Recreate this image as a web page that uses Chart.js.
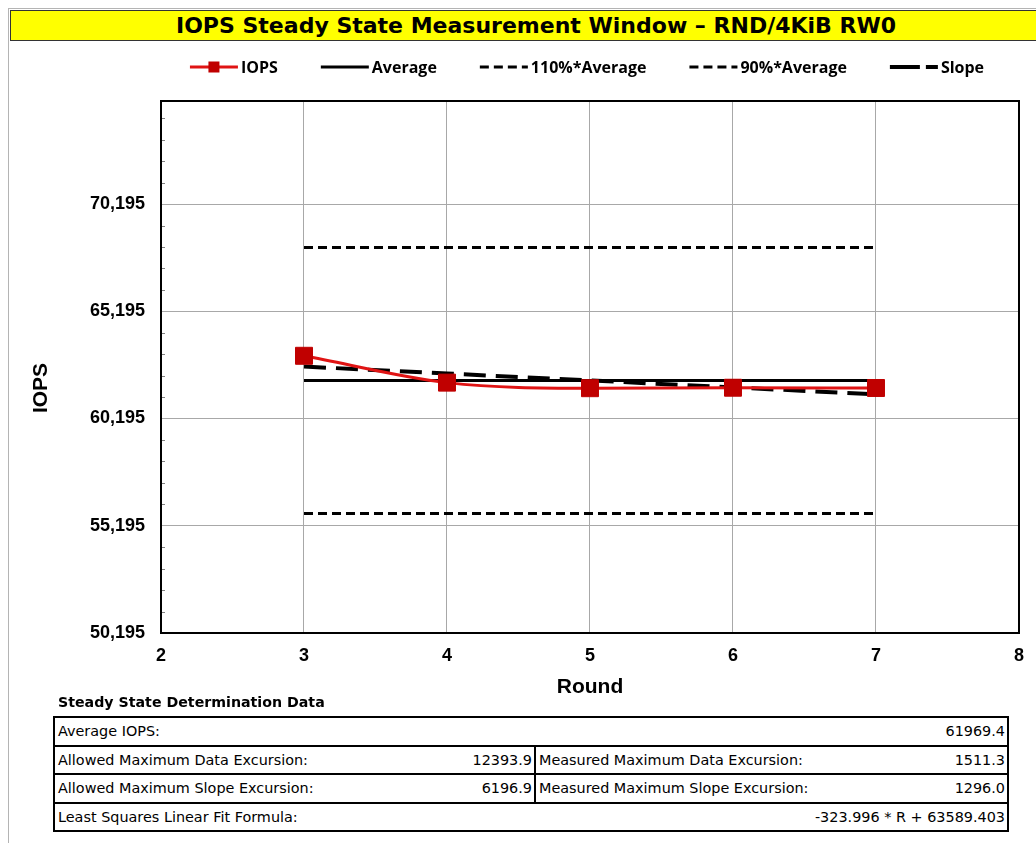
<!DOCTYPE html>
<html lang="en">
<head>
    <meta charset="UTF-8">
    <meta name="viewport" content="width=device-width, initial-scale=1.0">
    <title>IOPS Steady State Measurement Window</title>
    <script src="https://cdn.jsdelivr.net/npm/chart.js"></script>
    <style>
        body {
            margin: 0;
            width: 1036px;
            height: 843px;
            overflow: hidden;
            position: relative;
            background: #fff;
            font-family: "DejaVu Sans", sans-serif;
        }
        .frame-top { position: absolute; left: 8px; top: 8px; width: 1028px; height: 1px; background: #b4b4b4; }
        .frame-left { position: absolute; left: 8px; top: 8px; width: 1px; height: 835px; background: #b4b4b4; }
        .title {
            position: absolute;
            left: 10px;
            top: 10px;
            width: 1050px;
            height: 29px;
            background: #ffff00;
            border: 1px solid #333;
            font: bold 22px "DejaVu Sans", sans-serif;
            line-height: 29px;
            text-align: center;
        }
        .chart-box { position: absolute; left: 0; top: 40px; width: 1036px; height: 670px; }
        .ss-title { position: absolute; left: 58px; top: 694px; font: bold 14.2px "DejaVu Sans", sans-serif; }
        .ss-table {
            position: absolute;
            left: 53px;
            top: 716px;
            width: 956px;
            border: 2px solid #000;
            box-sizing: border-box;
        }
        .row { display: flex; height: 26.5px; }
        .row + .row { border-top: 2px solid #000; }
        .cell {
            flex: 1;
            display: flex;
            justify-content: space-between;
            align-items: center;
            padding: 0 2px 0 3px;
            font-size: 14.4px;
            color: #000;
        }
        .cell.half { flex: none; width: 474px; }
        .cell + .cell { border-left: 2px solid #000; }
    </style>
</head>
<body>
    <div class="frame-top"></div>
    <div class="frame-left"></div>
    <div class="title">IOPS Steady State Measurement Window – RND/4KiB RW0</div>
    <div class="chart-box"><canvas id="ssChart"></canvas></div>

    <div class="ss-title">Steady State Determination Data</div>
    <div class="ss-table">
        <div class="row"><div class="cell"><span>Average IOPS:</span><span>61969.4</span></div></div>
        <div class="row">
            <div class="cell half"><span>Allowed Maximum Data Excursion:</span><span>12393.9</span></div>
            <div class="cell"><span>Measured Maximum Data Excursion:</span><span>1511.3</span></div>
        </div>
        <div class="row">
            <div class="cell half"><span>Allowed Maximum Slope Excursion:</span><span>6196.9</span></div>
            <div class="cell"><span>Measured Maximum Slope Excursion:</span><span>1296.0</span></div>
        </div>
        <div class="row"><div class="cell"><span>Least Squares Linear Fit Formula:</span><span>-323.996 * R + 63589.403</span></div></div>
    </div>

    <script>
        // values
        const rounds = [3, 4, 5, 6, 7];
        const iops = [63120, 61869, 61609, 61631, 61619];
        const averageIops = [61969.4, 61969.4, 61969.4, 61969.4, 61969.4];
        const upperAverage = [68166.3, 68166.3, 68166.3, 68166.3, 68166.3]; // 110%*Average
        const lowerAverage = [55772.5, 55772.5, 55772.5, 55772.5, 55772.5]; // 90%*Average
        const slopeFit = [62617.4, 62293.4, 61969.4, 61645.4, 61321.4];
        const xTicks = [2, 3, 4, 5, 6, 7, 8];
        const yTicks = [50195, 55195, 60195, 65195, 70195];
        const yMin = 50195;
        const yMax = 75000;
        const minorStep = 1000;

        const toPoints = (ys) => rounds.map((r, i) => ({ x: r, y: ys[i] }));

        const tickFont = { family: 'Liberation Sans', weight: 'bold', size: 18 };
        const gridColor = '#a8a8a8';

        // plot frame + minor ticks on the value axis
        const framePlugin = {
            id: 'frame',
            afterDraw(chart) {
                const { ctx, chartArea: a } = chart;
                const y = chart.scales.y;
                ctx.save();
                ctx.strokeStyle = '#808080';
                ctx.lineWidth = 1;
                for (let v = yMin + minorStep; v < yMax; v += minorStep) {
                    if (yTicks.includes(v)) continue;
                    const py = Math.round(y.getPixelForValue(v)) + 0.5;
                    ctx.beginPath();
                    ctx.moveTo(a.left, py);
                    ctx.lineTo(a.left + 4, py);
                    ctx.stroke();
                }
                ctx.strokeStyle = '#000';
                ctx.lineWidth = 2;
                ctx.strokeRect(a.left, a.top, a.right - a.left, a.bottom - a.top);

                // value axis title
                ctx.fillStyle = '#000';
                ctx.font = 'bold 21px "Liberation Sans"';
                ctx.textAlign = 'center';
                ctx.textBaseline = 'middle';
                ctx.translate(41, 348);
                ctx.rotate(-Math.PI / 2);
                ctx.fillText('IOPS', 0, 0);
                ctx.restore();
            }
        };

        // legend in the style of the original sheet
        const legendPlugin = {
            id: 'sheetLegend',
            afterDraw(chart) {
                const { ctx } = chart;
                const sets = chart.data.datasets;
                const sample = 48, textGap = 3, itemGap = 43, cy = 27, centerX = 587;
                ctx.save();
                ctx.font = 'bold 16px "Open Sans"';
                ctx.textBaseline = 'middle';
                const widths = sets.map(d => ctx.measureText(d.label).width);
                const total = widths.reduce((s, w) => s + sample + textGap + w, 0) + itemGap * (sets.length - 1);
                let x = centerX - total / 2;
                sets.forEach((d, i) => {
                    ctx.strokeStyle = d.borderColor;
                    ctx.lineWidth = d.borderWidth;
                    ctx.setLineDash(d.legendDash || d.borderDash || []);
                    ctx.beginPath();
                    ctx.moveTo(x, cy);
                    ctx.lineTo(x + sample, cy);
                    ctx.stroke();
                    ctx.setLineDash([]);
                    if (d.pointRadius > 0) {
                        ctx.fillStyle = d.pointBackgroundColor;
                        ctx.fillRect(x + sample / 2 - 5.5, cy - 5.5, 11, 11);
                    }
                    ctx.fillStyle = '#000';
                    ctx.fillText(d.label, x + sample + textGap, cy + 1);
                    x += sample + textGap + widths[i] + itemGap;
                });
                ctx.restore();
            }
        };

        const ctx = document.getElementById('ssChart').getContext('2d');
        const ssChart = new Chart(ctx, {
            type: 'line',
            data: {
                datasets: [
                    {
                        label: 'IOPS',
                        data: toPoints(iops),
                        borderColor: '#e01414',
                        borderWidth: 3,
                        pointStyle: 'rect',
                        pointRadius: 12,
                        pointBackgroundColor: '#c00000',
                        pointBorderColor: '#c00000',
                        pointBorderWidth: 1,
                        cubicInterpolationMode: 'monotone',
                        fill: false
                    },
                    {
                        label: 'Average',
                        data: toPoints(averageIops),
                        borderColor: '#000',
                        borderWidth: 3,
                        pointRadius: 0,
                        fill: false
                    },
                    {
                        label: '110%*Average',
                        data: toPoints(upperAverage),
                        borderColor: '#000',
                        borderWidth: 3,
                        borderDash: [9, 5],
                        pointRadius: 0,
                        fill: false
                    },
                    {
                        label: '90%*Average',
                        data: toPoints(lowerAverage),
                        borderColor: '#000',
                        borderWidth: 3,
                        borderDash: [9, 5],
                        pointRadius: 0,
                        fill: false
                    },
                    {
                        label: 'Slope',
                        data: toPoints(slopeFit),
                        borderColor: '#000',
                        borderWidth: 4,
                        borderDash: [22, 10],
                        legendDash: [30, 6],
                        pointRadius: 0,
                        fill: false
                    }
                ]
            },
            options: {
                responsive: true,
                maintainAspectRatio: false,
                animation: false,
                layout: { padding: { top: 61, right: 16, left: 0, bottom: 0 } },
                plugins: {
                    legend: { display: false },
                    tooltip: { enabled: false }
                },
                scales: {
                    x: {
                        type: 'linear',
                        min: 2,
                        max: 8,
                        afterBuildTicks: (s) => { s.ticks = xTicks.map(v => ({ value: v })); },
                        afterFit: (s) => { s.height = 77; },
                        grid: { color: gridColor, drawTicks: false },
                        border: { display: false },
                        ticks: { padding: 12, color: '#000', font: tickFont },
                        title: {
                            display: true,
                            text: 'Round',
                            color: '#000',
                            font: { family: 'Liberation Sans', weight: 'bold', size: 21 },
                            padding: { top: 0, bottom: 10 }
                        }
                    },
                    y: {
                        min: yMin,
                        max: yMax,
                        afterBuildTicks: (s) => { s.ticks = yTicks.map(v => ({ value: v })); },
                        afterFit: (s) => { s.width = 161; },
                        grid: { color: gridColor, drawTicks: false },
                        border: { display: false },
                        ticks: {
                            padding: 16,
                            color: '#000',
                            font: tickFont,
                            callback: (v) => Number(v).toLocaleString('en-US')
                        }
                    }
                }
            },
            plugins: [framePlugin, legendPlugin]
        });
    </script>
</body>
</html>
